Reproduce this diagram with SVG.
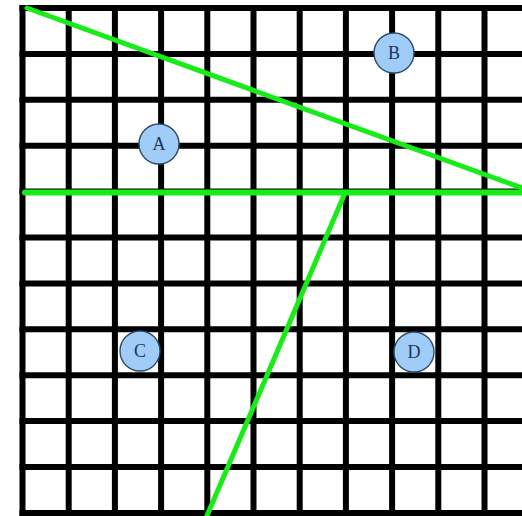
<svg xmlns="http://www.w3.org/2000/svg" width="522" height="516" viewBox="0 0 522 516">
<style>
.g{stroke:#000;stroke-width:6;fill:none}
.c{stroke:#18ec18;stroke-width:5;fill:none;stroke-linecap:round}
.n circle{fill:#9fcdf7;stroke:#2e4a68;stroke-width:1.4}
.n text{font-family:"Liberation Serif",serif;font-size:18px;fill:#1c3557;text-anchor:middle;dominant-baseline:central}
</style>
<rect width="522" height="516" fill="#fff"/>
<g id="grid" class="g">
<path d="M22.5 5V516M68.7 5V516M114.9 5V516M161.1 5V516M207.3 5V516M253.5 5V516M299.7 5V516M345.9 5V516M392.1 5V516M438.3 5V516M484.5 5V516"/>
<path d="M19.5 8H522M19.5 53.9H522M19.5 99.8H522M19.5 145.7H522M19.5 191.6H522M19.5 237.5H522M19.5 283.4H522M19.5 329.3H522M19.5 375.2H522M19.5 421.1H522M19.5 467H522M19.5 512.9H522"/>
</g>
<g id="connectors" class="c">
<line x1="27" y1="8" x2="522" y2="188"/>
<line x1="25" y1="192.5" x2="522" y2="192.5" stroke-width="6"/>
<line x1="345" y1="193" x2="206" y2="518"/>
</g>
<g id="A" class="n"><circle cx="159" cy="144" r="20"/><text x="159" y="144">A</text></g>
<g id="B" class="n"><circle cx="394" cy="53" r="20"/><text x="394" y="53">B</text></g>
<g id="C" class="n"><circle cx="140" cy="351" r="20"/><text x="140" y="351">C</text></g>
<g id="D" class="n"><circle cx="414" cy="352" r="20"/><text x="414" y="352">D</text></g>
</svg>
